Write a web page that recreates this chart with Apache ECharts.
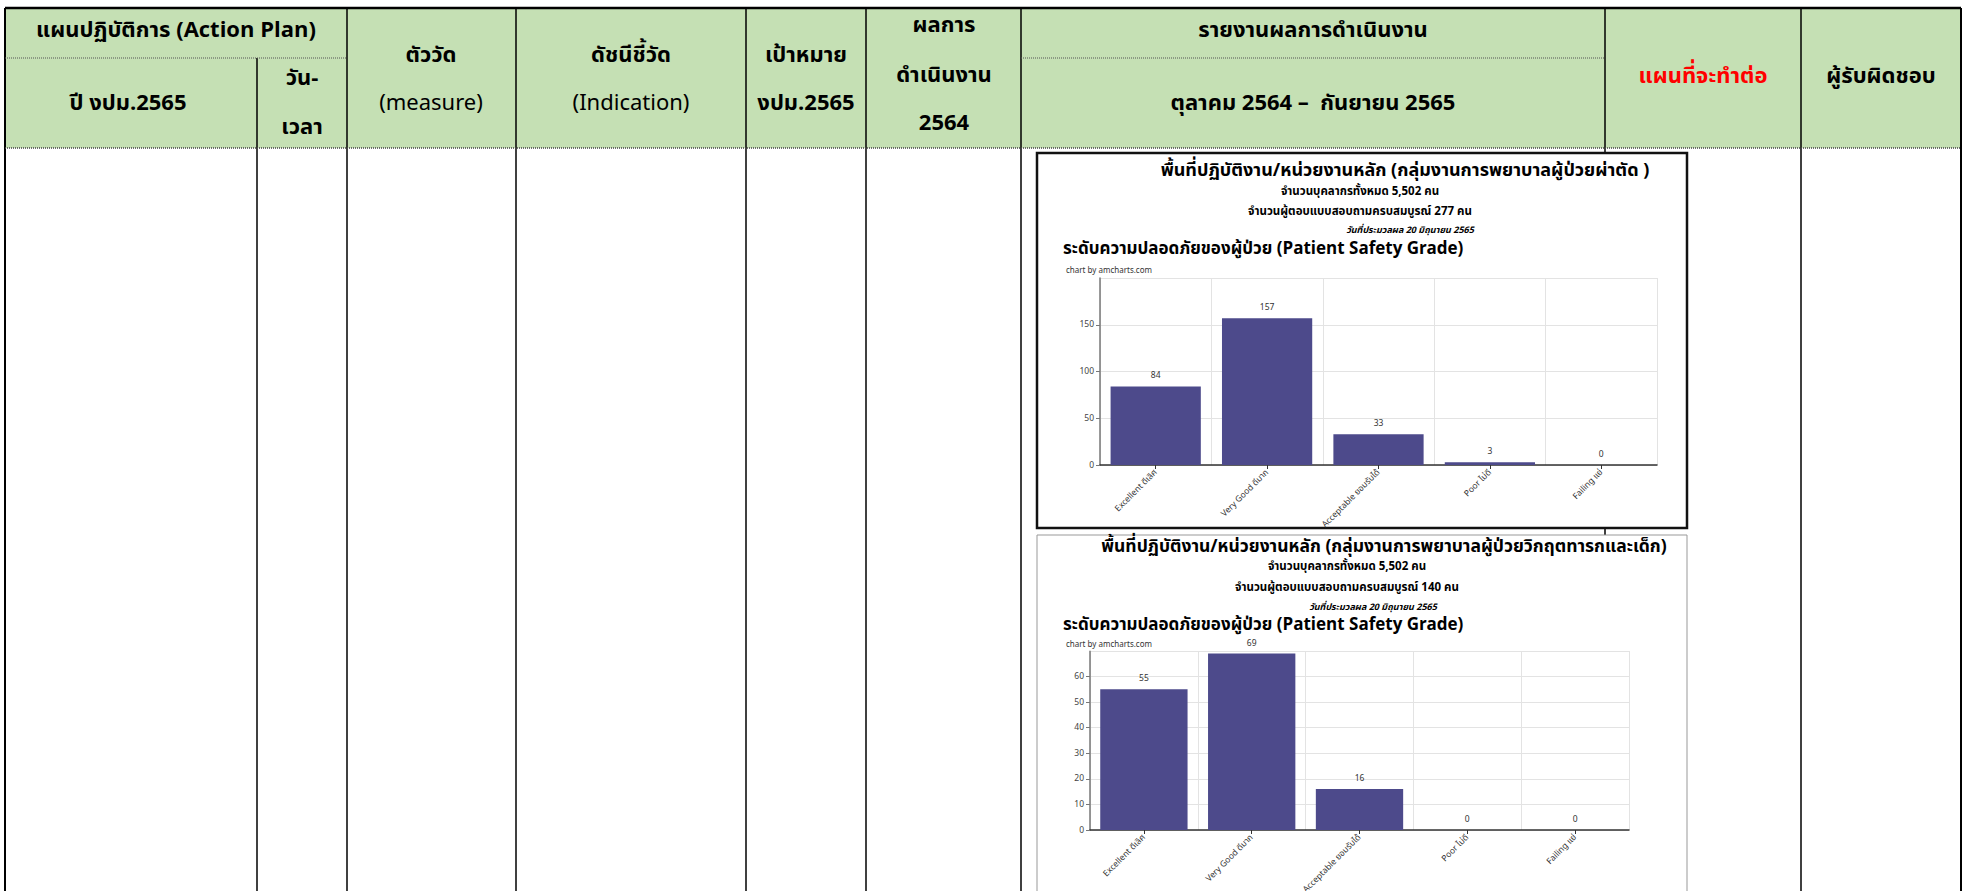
<!DOCTYPE html>
<html>
<head>
<meta charset="utf-8">
<script src="https://cdn.jsdelivr.net/npm/echarts@6/dist/echarts.min.js"></script>
<style>
html,body{margin:0;padding:0;background:#fff;}
#main{width:1965px;height:891px;}
</style>
</head>
<body>
<div id="main"></div>
<script>
// ---- data ----
const categories = ['Excellent ดีเลิศ', 'Very Good ดีมาก', 'Acceptable ยอมรับได้', 'Poor ไม่ดี', 'Failing แย่'];
const surgicalValues = [84, 157, 33, 3, 0];
const pediatricValues = [55, 69, 16, 0, 0];
const surgicalTitle = 'พื้นที่ปฏิบัติงาน/หน่วยงานหลัก (กลุ่มงานการพยาบาลผู้ป่วยผ่าตัด )';
const pediatricTitle = 'พื้นที่ปฏิบัติงาน/หน่วยงานหลัก (กลุ่มงานการพยาบาลผู้ป่วยวิกฤตทารกและเด็ก)';
const staffLine = 'จำนวนบุคลากรทั้งหมด 5,502 คน';
const surgicalResp = 'จำนวนผู้ตอบแบบสอบถามครบสมบูรณ์ 277 คน';
const pediatricResp = 'จำนวนผู้ตอบแบบสอบถามครบสมบูรณ์ 140 คน';
const dateLine = 'วันที่ประมวลผล 20 มิถุนายน 2565';
const gradeTitle = 'ระดับความปลอดภัยของผู้ป่วย (Patient Safety Grade)';
const credit = 'chart by amcharts.com';

const FONT = "'Noto Sans Thai','Noto Sans','DejaVu Sans',sans-serif";
const BAR = '#4d4a8b';

const chart = echarts.init(document.getElementById('main'), null, {renderer: 'svg'});

const g = [];
function line(x1, y1, x2, y2, stroke, w, dash) {
  g.push({type: 'line', silent: true, z: 1, shape: {x1, y1, x2, y2},
    style: {stroke, lineWidth: w, lineDash: dash || null}});
}
function txt(t, x, y, size, opts) {
  opts = opts || {};
  g.push({type: 'text', silent: true, z: 10, x, y,
    style: {text: t, fill: opts.color || '#000', align: opts.align || 'center', verticalAlign: 'middle',
      font: (opts.style || '') + ' ' + (opts.weight || 'bold') + ' ' + size + 'px ' + FONT,
      backgroundColor: opts.bg || null, padding: opts.pad || 0}});
}
// header fill
g.push({type: 'rect', silent: true, z: 0, shape: {x: 5, y: 8, width: 1956, height: 140}, style: {fill: '#c5e0b4'}});
// table lines
const cols = [257, 347, 516, 746, 866, 1021, 1605, 1801];
line(5, 8, 1961, 8, '#000', 2.5);
line(5, 8, 5, 891, '#000', 2);
line(1961, 8, 1961, 891, '#000', 2);
cols.forEach(function (c) { line(c, c === 257 ? 58 : 8, c, 891, '#000', 1.5); });
line(5, 58, 347, 58, '#555', 1, [1, 1]);
line(1021, 58, 1605, 58, '#555', 1, [1, 1]);
line(5, 148, 1961, 148, '#444', 1.5, [1, 1]);
// header texts
const H = 22;
txt('แผนปฏิบัติการ (Action Plan)', 176, 30, H);
txt('ปี งปม.2565', 128, 103, H);
txt('วัน-', 302, 78, H);
txt('เวลา', 302, 127, H);
txt('ตัววัด', 431, 55, H);
txt('(measure)', 431, 103, H, {weight: 'normal'});
txt('ดัชนีชี้วัด', 631, 55, H);
txt('(Indication)', 631, 103, H, {weight: 'normal'});
txt('เป้าหมาย', 806, 55, H);
txt('งปม.2565', 806, 103, H);
txt('ผลการ', 944, 25, H);
txt('ดำเนินงาน', 944, 75, H);
txt('2564', 944, 123, H);
txt('รายงานผลการดำเนินงาน', 1313, 30, H);
txt('ตุลาคม 2564 –  กันยายน 2565', 1313, 103, H);
txt('แผนที่จะทำต่อ', 1703, 76, H, {color: '#ff0000'});
txt('ผู้รับผิดชอบ', 1881, 76, H);
// embedded chart frames (white, they cover the table column line behind them)
g.push({type: 'rect', silent: true, z: 2, shape: {x: 1037, y: 153, width: 650, height: 375}, style: {fill: '#fff', stroke: '#111', lineWidth: 2.5}});
g.push({type: 'rect', silent: true, z: 2, shape: {x: 1037, y: 535, width: 650, height: 380}, style: {fill: '#fff', stroke: '#999', lineWidth: 1}});
// chart 1 texts
txt(surgicalTitle, 1405, 170, 18);
txt(staffLine, 1360, 191, 11.5);
txt(surgicalResp, 1360, 211, 11.5);
txt(dateLine, 1410, 230, 9, {style: 'italic'});
txt(gradeTitle, 1063, 249, 17, {align: 'left'});
txt(credit, 1066, 271, 8, {align: 'left', weight: 'normal', color: '#333', bg: '#fff', pad: [1, 20, 2, 0]});
// chart 2 texts
txt(pediatricTitle, 1384, 546, 17.5);
txt(staffLine, 1347, 566, 11.5);
txt(pediatricResp, 1347, 587, 11.5);
txt(dateLine, 1373, 607, 9, {style: 'italic'});
txt(gradeTitle, 1063, 625, 17, {align: 'left'});
txt(credit, 1066, 645, 8, {align: 'left', weight: 'normal', color: '#333', bg: '#fff', pad: [1, 20, 2, 0]});

function xAxisCfg(idx) {
  return {
    type: 'category', gridIndex: idx, data: categories, z: 4,
    axisLine: {lineStyle: {color: '#333', width: 1.5}},
    axisTick: {show: true, alignWithLabel: true, length: 4, lineStyle: {color: '#333'}},
    axisLabel: {rotate: 45, fontSize: 8.5, color: '#333', fontFamily: FONT, margin: 6},
    splitLine: {show: true, lineStyle: {color: '#e3e3e3', width: 1}}
  };
}
function yAxisCfg(idx, max, interval) {
  return {
    type: 'value', gridIndex: idx, min: 0, max: max, interval: interval, z: 4,
    axisLine: {show: true, lineStyle: {color: '#777', width: 1.5}},
    axisTick: {show: true, length: 4, lineStyle: {color: '#777'}},
    axisLabel: {fontSize: 8.5, color: '#444', fontFamily: FONT, margin: 6, showMaxLabel: false},
    splitLine: {show: true, lineStyle: {color: '#e3e3e3', width: 1}}
  };
}
function barSeries(idx, data) {
  return {
    type: 'bar', xAxisIndex: idx, yAxisIndex: idx, data: data, barWidth: '81%', z: 5,
    itemStyle: {color: BAR},
    label: {show: true, position: 'top', fontSize: 8.5, color: '#333', fontFamily: FONT, distance: 6}
  };
}

chart.setOption({
  animation: false,
  backgroundColor: '#fff',
  grid: [
    {left: 1100, top: 278, width: 557, height: 187, containLabel: false, outerBoundsMode: 'none'},
    {left: 1090, top: 651, width: 539, height: 179, containLabel: false, outerBoundsMode: 'none'}
  ],
  xAxis: [xAxisCfg(0), xAxisCfg(1)],
  yAxis: [yAxisCfg(0, 200, 50), yAxisCfg(1, 70, 10)],
  series: [barSeries(0, surgicalValues), barSeries(1, pediatricValues)],
  graphic: g
});
</script>
</body>
</html>
